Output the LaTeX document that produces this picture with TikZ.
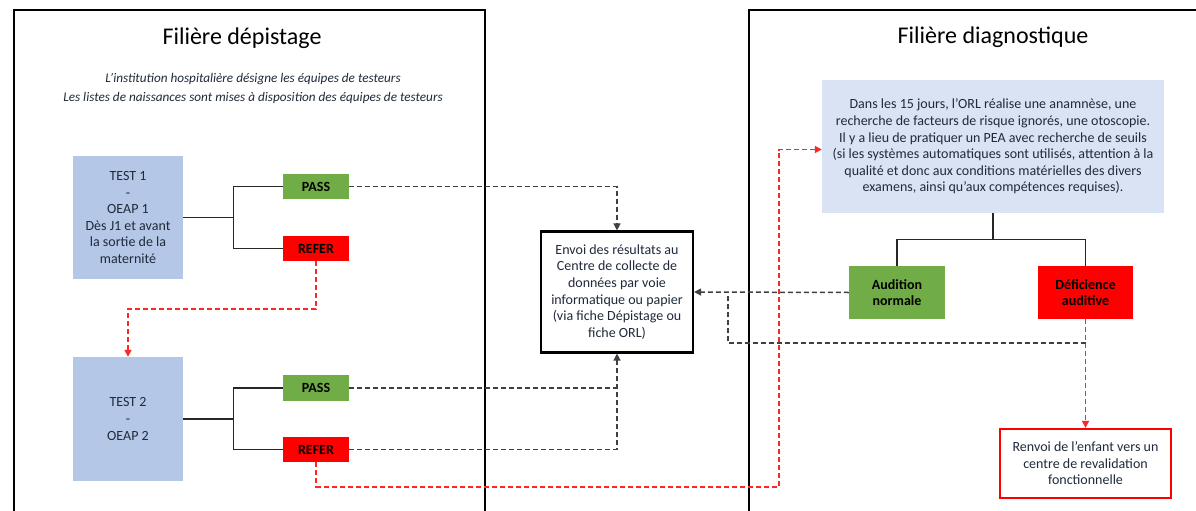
\documentclass[tikz,border=0pt]{standalone}
\usepackage{fontspec}
\setmainfont{Carlito}
\usetikzlibrary{arrows.meta}
\definecolor{lblue}{HTML}{B4C7E7}
\definecolor{pblue}{HTML}{DAE3F3}
\definecolor{ogreen}{HTML}{70AD47}
\definecolor{ored}{HTML}{FF0000}
\definecolor{txt}{HTML}{1F2A3A}
\definecolor{lgray}{HTML}{404040}
\tikzset{
  body/.style={font=\fontsize{14}{16.6}\selectfont, text=txt, align=center, inner sep=0pt},
  testbox/.style={body, fill=lblue, minimum width=110pt},
  tag/.style={font=\fontsize{14}{16.6}\selectfont\bfseries, text=black, align=center, inner sep=0pt, minimum width=66pt, minimum height=25pt},
  passbox/.style={tag, fill=ogreen},
  referbox/.style={tag, fill=ored},
  tree/.style={draw=black!85, line width=1.2pt},
  blkdash/.style={draw=lgray, line width=1.5pt, dash pattern=on 5pt off 3pt},
  reddash/.style={draw=ored!85, line width=1.6pt, dash pattern=on 5pt off 3pt},
  tip/.style={-{Triangle[length=7pt,width=7pt]}},
  panel/.style={draw=black, line width=2.4pt},
  title/.style={font=\fontsize{24}{28}\selectfont, text=black, inner sep=0pt}
}
\begin{document}
\begin{tikzpicture}[x=1pt,y=-1pt]
\useasboundingbox (0,0) rectangle (1196,511);
\fill[white] (0,0) rectangle (1196,511);
% panels
\draw[panel] (14,520) -- (14,10) -- (485,10) -- (485,520);
\draw[panel] (749,520) -- (749,10) -- (1205,10);
\node[title] (t1) at (242,38) {Filière dépistage};
\node[title] (t2) at (993,37) {Filière diagnostique};
\node[font=\fontsize{13.2}{19}\selectfont\itshape, text=txt, align=center, inner sep=0pt] (intro) at (253,88)
  {L’institution hospitalière désigne les équipes de testeurs\\Les listes de naissances sont mises à disposition des équipes de testeurs};
% screening nodes
\node[testbox, minimum height=123pt] (test1) at (128,217.5) {TEST 1\\-\\OEAP 1\\Dès J1 et avant\\la sortie de la\\maternité};
\node[passbox] (pass1) at (316,186.5) {PASS};
\node[referbox] (refer1) at (316,248.5) {REFER};
\node[testbox, minimum height=124pt] (test2) at (128,419) {TEST 2\\-\\OEAP 2};
\node[passbox, minimum height=26pt] (pass2) at (316,388) {PASS};
\node[referbox] (refer2) at (316,449.5) {REFER};
\node[body, draw=black, line width=2.2pt, minimum width=152pt, minimum height=121pt] (envoi) at (617,292)
  {Envoi des résultats au\\Centre de collecte de\\données par voie\\informatique ou papier\\(via fiche Dépistage ou\\fiche ORL)};
% diagnostic nodes
\node[body, fill=pblue, minimum width=342pt, minimum height=133pt] (diag) at (993,146.5)
  {Dans les 15 jours, l’ORL réalise une anamnèse, une\\recherche de facteurs de risque ignorés, une otoscopie.\\Il y a lieu de pratiquer un PEA avec recherche de seuils\\(si les systèmes automatiques sont utilisés, attention à la\\qualité et donc aux conditions matérielles des divers\\examens, ainsi qu’aux compétences requises).};
\node[tag, fill=ogreen, minimum width=96pt, minimum height=53pt] (audition) at (897,292.5) {Audition\\normale};
\node[tag, fill=ored, minimum width=95pt, minimum height=53pt] (deficience) at (1085.5,292.5) {Déficience\\auditive};
\node[body, draw=ored, line width=2.2pt, minimum width=171pt, minimum height=69pt] (renvoi) at (1085.5,463.5)
  {Renvoi de l’enfant vers un\\centre de revalidation\\fonctionnelle};
% trees
\draw[tree] (test1.east) -- ++(50,0) coordinate (j1) |- (pass1.west);
\draw[tree] (j1) |- (refer1.west);
\draw[tree] (test2.east) -- ++(50,0) coordinate (j2) |- (pass2.west);
\draw[tree] (j2) |- (refer2.west);
\draw[tree] (diag.south) -- ++(0,26) coordinate (dj);
\draw[tree] (dj) -| (audition.north);
\draw[tree] (dj) -| (deficience.north);
% red dashed
\draw[reddash, tip] (refer1.south) -- ++(0,48) -| (test2.north);
\draw[reddash, tip] (refer2.south) -- ++(0,24.5) -| ([xshift=-43pt,yshift=-3pt]diag.west) -- ([yshift=-3pt]diag.west);
\draw[reddash, tip] (deficience.south) -- (renvoi.north);
% black dashed
\draw[blkdash, tip] (pass1.east) -| (envoi.north);
\draw[blkdash] (pass2.east) -- (envoi.south |- pass2.east);
\draw[blkdash, tip] (refer2.east) -| (envoi.south);
\draw[blkdash, tip] (audition.west) -- (envoi.east);
\draw[blkdash] ([yshift=-24pt]deficience.south) -| ([xshift=34pt]envoi.east);
\end{tikzpicture}
\end{document}
